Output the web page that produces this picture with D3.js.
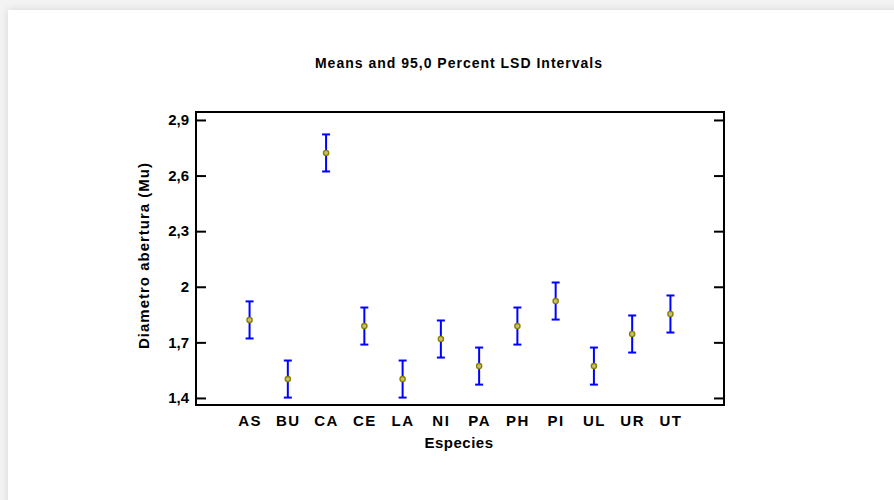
<!DOCTYPE html>
<html>
<head>
<meta charset="utf-8">
<script src="https://cdn.jsdelivr.net/npm/d3@7"></script>
<style>
  html, body { margin: 0; padding: 0; background: #f3f3f3; }
  #card {
    position: absolute; left: 8px; top: 10px; width: 900px; height: 500px;
    background: #fff; box-shadow: 0 0 8px rgba(0,0,0,0.12);
  }
  svg { position: absolute; left: 0; top: 0; }
  text { font-family: "Liberation Sans", Arial, sans-serif; font-weight: bold; fill: #000; }
</style>
</head>
<body>
<div id="card"></div>
<div id="chart"></div>
<script>
const especies = ["AS", "BU", "CA", "CE", "LA", "NI", "PA", "PH", "PI", "UL", "UR", "UT"]
const means = [1.821, 1.502, 2.722, 1.788, 1.502, 1.718, 1.572, 1.788, 1.923, 1.572, 1.745, 1.853]
const lsd_half = [0.1, 0.1, 0.1, 0.1, 0.1, 0.1, 0.1, 0.1, 0.1, 0.1, 0.1, 0.1]
const y_ticks = [1.4, 1.7, 2.0, 2.3, 2.6, 2.9]

const width = 894, height = 500
const plot_left = 196, plot_right = 724, plot_top = 112, plot_bottom = 405

const svg = d3.select("#chart").append("svg")
  .attr("width", width)
  .attr("height", height)

const x = d3.scalePoint().domain(especies).range([plot_left, plot_right]).padding(1.4)
const y = d3.scaleLinear().domain([1.362, 2.943]).range([plot_bottom, plot_top])

const fmt = (d) => d3.format(".1~f")(d).replace(".", ",")

// title
svg.append("text")
  .attr("x", 459).attr("y", 68)
  .attr("text-anchor", "middle")
  .style("font-size", "14px")
  .style("letter-spacing", "1px")
  .text("Means and 95,0 Percent LSD Intervals")

// frame
svg.append("rect")
  .attr("x", plot_left).attr("y", plot_top)
  .attr("width", plot_right - plot_left).attr("height", plot_bottom - plot_top)
  .attr("fill", "none").attr("stroke", "#000").attr("stroke-width", 2)

// y axis left and right
svg.append("g")
  .attr("transform", `translate(${plot_left},0)`)
  .call(d3.axisLeft(y).tickValues(y_ticks).tickSize(-10).tickPadding(7).tickFormat(fmt))
  .call(g => g.select(".domain").remove())
  .call(g => g.selectAll("line").attr("stroke-width", 2))
  .call(g => g.selectAll("text").style("font-size", "15px").style("font-family", "Liberation Sans, Arial, sans-serif").style("font-weight", "bold"))

svg.append("g")
  .attr("transform", `translate(${plot_right},0)`)
  .call(d3.axisRight(y).tickValues(y_ticks).tickSize(-10).tickFormat(""))
  .call(g => g.select(".domain").remove())
  .call(g => g.selectAll("line").attr("stroke-width", 2))

// x axis labels
svg.append("g")
  .attr("transform", `translate(0,${plot_bottom})`)
  .call(d3.axisBottom(x).tickSize(0).tickPadding(10))
  .call(g => g.select(".domain").remove())
  .call(g => g.selectAll("text").style("font-size", "15px").style("letter-spacing", "1.5px").style("font-family", "Liberation Sans, Arial, sans-serif").style("font-weight", "bold"))

svg.append("text")
  .attr("x", 459).attr("y", 448)
  .attr("text-anchor", "middle")
  .style("font-size", "15px")
  .style("letter-spacing", "0.5px")
  .text("Especies")

svg.append("text")
  .attr("transform", `translate(149,${(plot_top + plot_bottom) / 2 - 3}) rotate(-90)`)
  .attr("text-anchor", "middle")
  .style("font-size", "15px")
  .style("letter-spacing", "1px")
  .text("Diametro abertura (Mu)")

// intervals
const data = especies.map((e, i) => ({ e: e, m: means[i], h: lsd_half[i] }))

const bars = svg.selectAll("g.bar")
  .data(data)
  .join("g")
  .attr("class", "bar")

bars.append("line")
  .attr("x1", d => x(d.e)).attr("x2", d => x(d.e))
  .attr("y1", d => y(d.m - d.h)).attr("y2", d => y(d.m + d.h))
  .attr("stroke", "#0000ff").attr("stroke-width", 2)

bars.selectAll("line.cap")
  .data(d => [{ e: d.e, v: d.m - d.h }, { e: d.e, v: d.m + d.h }])
  .join("line")
  .attr("class", "cap")
  .attr("x1", d => x(d.e) - 4).attr("x2", d => x(d.e) + 4)
  .attr("y1", d => y(d.v)).attr("y2", d => y(d.v))
  .attr("stroke", "#0000ff").attr("stroke-width", 2)

bars.append("circle")
  .attr("cx", d => x(d.e)).attr("cy", d => y(d.m))
  .attr("r", 2.6)
  .attr("fill", "#c8c070")
  .attr("stroke", "#8a8000").attr("stroke-width", 1.4)
</script>
</body>
</html>
